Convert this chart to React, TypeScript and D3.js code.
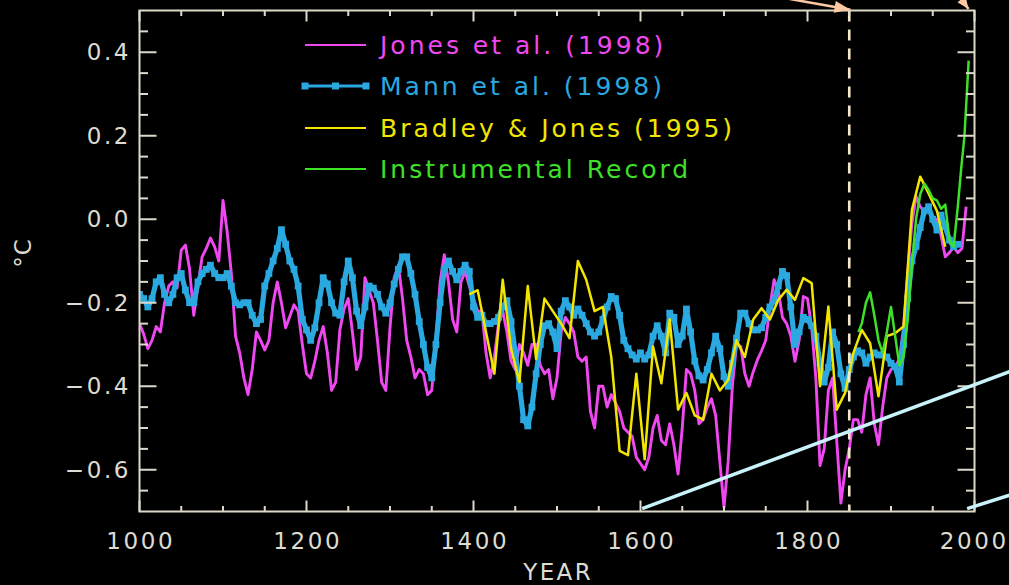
import React from 'react';
import * as d3 from 'd3';

// ---------------- DATA ----------------
const jonesYears = d3.range(1000, 1991, 5);
const jonesValues = [
  -0.25, -0.275, -0.31, -0.29, -0.257, -0.27, -0.2, -0.16, -0.15, -0.165,
  -0.074, -0.062, -0.12, -0.23, -0.16, -0.09, -0.07, -0.045, -0.066, -0.1,
  0.045, -0.03, -0.13, -0.28, -0.32, -0.38, -0.42, -0.36, -0.27, -0.29,
  -0.313, -0.29, -0.2, -0.15, -0.2, -0.26, -0.233, -0.205, -0.22, -0.3,
  -0.37, -0.38, -0.34, -0.29, -0.257, -0.32, -0.41, -0.39, -0.265, -0.215,
  -0.19, -0.27, -0.36, -0.33, -0.14, -0.17, -0.2, -0.29, -0.39, -0.41,
  -0.26, -0.14, -0.11, -0.19, -0.29, -0.33, -0.38, -0.36, -0.37, -0.42,
  -0.41, -0.29, -0.15, -0.085, -0.15, -0.24, -0.27, -0.15, -0.125, -0.16,
  -0.19, -0.22, -0.22, -0.32, -0.38, -0.33, -0.25, -0.22, -0.27, -0.34,
  -0.36, -0.3, -0.32, -0.35, -0.3, -0.3, -0.35, -0.37, -0.36, -0.43,
  -0.38, -0.27, -0.235, -0.25, -0.27, -0.33, -0.34, -0.33, -0.46, -0.5,
  -0.4, -0.4, -0.45, -0.42, -0.44, -0.46, -0.5, -0.51, -0.52, -0.57,
  -0.585, -0.6, -0.57, -0.5, -0.47, -0.53, -0.54, -0.49, -0.54, -0.61,
  -0.5, -0.36, -0.37, -0.41, -0.49, -0.48, -0.45, -0.43, -0.47, -0.58,
  -0.69, -0.58, -0.4, -0.3, -0.305, -0.37, -0.4, -0.365, -0.337, -0.315,
  -0.29, -0.21, -0.145, -0.17, -0.235, -0.25, -0.28, -0.34, -0.29, -0.185,
  -0.19, -0.26, -0.38, -0.59, -0.55, -0.41, -0.38, -0.53, -0.68, -0.6,
  -0.55, -0.48, -0.48, -0.51, -0.42, -0.38, -0.49, -0.54, -0.45, -0.38,
  -0.36, -0.353, -0.335, -0.26, -0.13, -0.01, 0.055, 0.03, 0.02, 0.03,
  -0.005, 0.0, -0.04, -0.09, -0.08, -0.066, -0.08, -0.07, 0.03,
];

const mannYears = d3.range(1000, 1981, 5);
const mannValues = [
  -0.18, -0.19, -0.21, -0.19, -0.15, -0.14, -0.18, -0.2, -0.18, -0.14,
  -0.13, -0.17, -0.2, -0.2, -0.15, -0.13, -0.12, -0.11, -0.13, -0.14,
  -0.14, -0.13, -0.16, -0.2, -0.205, -0.2, -0.2, -0.23, -0.25, -0.24,
  -0.16, -0.13, -0.1, -0.07, -0.025, -0.06, -0.1, -0.12, -0.16, -0.24,
  -0.265, -0.29, -0.26, -0.2, -0.14, -0.155, -0.2, -0.225, -0.23, -0.15,
  -0.1, -0.14, -0.22, -0.255, -0.21, -0.16, -0.165, -0.18, -0.21, -0.225,
  -0.2, -0.155, -0.12, -0.09, -0.09, -0.13, -0.18, -0.245, -0.3, -0.355,
  -0.38, -0.3, -0.2, -0.12, -0.1, -0.125, -0.145, -0.125, -0.11, -0.125,
  -0.21, -0.235, -0.23, -0.25, -0.25, -0.245, -0.235, -0.21, -0.195, -0.245,
  -0.32, -0.4, -0.48, -0.495, -0.45, -0.37, -0.3, -0.255, -0.25, -0.27,
  -0.31, -0.22, -0.195, -0.21, -0.23, -0.215, -0.23, -0.25, -0.27, -0.28,
  -0.27, -0.24, -0.21, -0.185, -0.19, -0.23, -0.29, -0.31, -0.325, -0.335,
  -0.32, -0.335, -0.325, -0.28, -0.255, -0.28, -0.32, -0.225, -0.235, -0.3,
  -0.28, -0.215, -0.27, -0.34, -0.375, -0.385, -0.36, -0.32, -0.28, -0.31,
  -0.377, -0.4, -0.345, -0.285, -0.225, -0.225, -0.25, -0.265, -0.265, -0.26,
  -0.235, -0.21, -0.195, -0.16, -0.125, -0.135, -0.21, -0.3, -0.27, -0.235,
  -0.24, -0.255, -0.28, -0.345, -0.39, -0.355, -0.27, -0.3, -0.37, -0.405,
  -0.36, -0.33, -0.315, -0.32, -0.345, -0.33, -0.32, -0.325, -0.325, -0.33,
  -0.345, -0.353, -0.39, -0.3, -0.19, -0.1, -0.065, -0.02, 0.02, 0.03,
  0.0, -0.026, 0.01, -0.018, -0.05, -0.066, -0.06,
];

const bradleyYears = d3.range(1395, 1966, 10);
const bradleyValues = [
  -0.18, -0.17, -0.27, -0.37, -0.145, -0.31, -0.39, -0.16, -0.335, -0.19,
  -0.22, -0.25, -0.285, -0.1, -0.145, -0.22, -0.21, -0.33, -0.555, -0.565,
  -0.37, -0.575, -0.305, -0.393, -0.24, -0.456, -0.416, -0.47, -0.48, -0.37,
  -0.41, -0.385, -0.29, -0.33, -0.24, -0.213, -0.24, -0.193, -0.169, -0.193,
  -0.141, -0.153, -0.4, -0.209, -0.456, -0.416, -0.32, -0.265, -0.297, -0.424,
  -0.28, -0.273, -0.257, 0.022, 0.102, 0.062, 0.02, -0.066,
];

const instYears = [
  1861, 1865, 1870, 1875, 1880, 1885, 1890, 1895, 1900, 1905, 1910, 1915, 1920, 1925,
  1930, 1935, 1940, 1945, 1950, 1955, 1960, 1965, 1970, 1975, 1980, 1984, 1988, 1993,
];
const instValues = [
  -0.27, -0.25, -0.2, -0.175, -0.23, -0.29, -0.32, -0.27, -0.21, -0.28, -0.35, -0.33, -0.24, -0.11,
  0.0, 0.06, 0.085, 0.07, 0.05, 0.045, 0.025, 0.035, -0.05, -0.066, 0.03, 0.12, 0.2, 0.38,
];

const xMajorTicks = [1000, 1200, 1400, 1600, 1800, 2000];
const xMinorTicks = d3.range(1050, 2000, 50).filter((t) => t % 200 !== 0);
const yMajorTicks = [0.4, 0.2, 0.0, -0.2, -0.4, -0.6];
const yMinorTicks = [0.45, 0.35, 0.3, 0.25, 0.15, 0.1, 0.05, -0.05, -0.1, -0.15, -0.25, -0.3, -0.35, -0.45, -0.5, -0.55, -0.65];

const legendLabels = ['Jones et al. (1998)', 'Mann et al. (1998)', 'Bradley & Jones (1995)', 'Instrumental Record'];
const legendColors = ['#f048f0', '#2aa8e0', '#f2e600', '#3ee028'];

const markerYear = 1850;
const annotLine1 = [[1602, -0.693], [2042, -0.365]];
const annotLine2 = [[1991.2, -0.693], [2042, -0.661]];
const arrow1 = [[1772, 0.53], [1851.5, 0.502]];
const arrow2 = [[1977, 0.548], [1992.8, 0.5035]];

// ---------------- LAYOUT ----------------
const W = 1009;
const H = 585;
const L = 139.5;
const R = 974.5;
const T = 10.5;
const B = 511.5;
const AX = '#ddd9c8';
const TXT = '#dedcd2';

const x = d3.scaleLinear().domain([1000, 2000]).range([L, R]);
const y = d3.scaleLinear().domain([-0.7, 0.5]).range([B, T]);

const fmtY = (v: number) => {
  const s = Math.abs(v).toFixed(1);
  return v < -1e-9 ? '\u2212' + s : s;
};

function arrowHead(p: number[][], len: number, half: number) {
  const [x0, y0] = [x(p[0][0]), y(p[0][1])];
  const [x1, y1] = [x(p[1][0]), y(p[1][1])];
  const dx = x1 - x0;
  const dy = y1 - y0;
  const d = Math.hypot(dx, dy);
  const ux = dx / d;
  const uy = dy / d;
  const bx = x1 - ux * len;
  const by = y1 - uy * len;
  return `${x1},${y1} ${bx - uy * half},${by + ux * half} ${bx + uy * half},${by - ux * half}`;
}

export default function App() {
  const line = d3.line<[number, number]>().x((d) => x(d[0])).y((d) => y(d[1]));
  const jones = jonesYears.map((yr, i) => [yr, jonesValues[i]] as [number, number]);
  const mann = mannYears.map((yr, i) => [yr, mannValues[i]] as [number, number]);
  const bradley = bradleyYears.map((yr, i) => [yr, bradleyValues[i]] as [number, number]);
  const inst = instYears.map((yr, i) => [yr, instValues[i]] as [number, number]);
  const font = '"DejaVu Sans", Verdana, sans-serif';
  const tickLS = 2.6;

  const legY = [45, 86, 128, 169];

  return (
    <div style={{ position: 'fixed', left: 0, top: 0, width: W, height: H, background: '#000' }}>
      <svg width={W} height={H} style={{ display: 'block', background: '#000' }}>
        <defs>
          <clipPath id="plot">
            <rect x={L} y={T} width={R - L} height={B - T} />
          </clipPath>
        </defs>

        {/* series */}
        <g clipPath="url(#plot)">
          <path d={line(jones) || ''} fill="none" stroke={legendColors[0]} strokeWidth={2.9} strokeLinejoin="round" />
          <path d={line(mann) || ''} fill="none" stroke={legendColors[1]} strokeWidth={5.2} strokeLinejoin="round" />
          {mann.map((d, i) => (
            <rect key={i} x={x(d[0]) - 3.4} y={y(d[1]) - 3.4} width={6.8} height={6.8} fill={legendColors[1]} />
          ))}
          <path d={line(bradley) || ''} fill="none" stroke={legendColors[2]} strokeWidth={2.5} strokeLinejoin="round" />
          <path d={line(inst) || ''} fill="none" stroke={legendColors[3]} strokeWidth={2.5} strokeLinejoin="round" />
        </g>

        {/* dashed 1850 marker */}
        <line x1={x(markerYear)} x2={x(markerYear)} y1={T} y2={B} stroke="#f6e8cc" strokeWidth={2.6} strokeDasharray="11,8" />

        {/* frame */}
        <rect x={L} y={T} width={R - L} height={B - T} fill="none" stroke={AX} strokeWidth={2} />
        {xMajorTicks.map((t) => (
          <g key={'xM' + t}>
            <line x1={x(t)} x2={x(t)} y1={B} y2={B - 11} stroke={AX} strokeWidth={2} />
            <line x1={x(t)} x2={x(t)} y1={T} y2={T + 11} stroke={AX} strokeWidth={2} />
            <text x={x(t) + tickLS / 2 - (t === 2000 ? 1.5 : 0)} y={549} fill={TXT} fontFamily={font} fontSize={23} letterSpacing={tickLS} textAnchor="middle">{t}</text>
          </g>
        ))}
        {xMinorTicks.map((t) => (
          <g key={'xm' + t}>
            <line x1={x(t)} x2={x(t)} y1={B} y2={B - 5.5} stroke={AX} strokeWidth={2} />
            <line x1={x(t)} x2={x(t)} y1={T} y2={T + 5.5} stroke={AX} strokeWidth={2} />
          </g>
        ))}
        {yMajorTicks.map((t) => (
          <g key={'yM' + t}>
            <line x1={L} x2={L + 17} y1={y(t)} y2={y(t)} stroke={AX} strokeWidth={2} />
            <line x1={R} x2={R - 17} y1={y(t)} y2={y(t)} stroke={AX} strokeWidth={2} />
            <text x={128.5 + tickLS} y={y(t) + 8.2} fill={TXT} fontFamily={font} fontSize={23} letterSpacing={tickLS} textAnchor="end">{fmtY(t)}</text>
          </g>
        ))}
        {yMinorTicks.map((t) => (
          <g key={'ym' + t}>
            <line x1={L} x2={L + 8.5} y1={y(t)} y2={y(t)} stroke={AX} strokeWidth={2} />
            <line x1={R} x2={R - 8.5} y1={y(t)} y2={y(t)} stroke={AX} strokeWidth={2} />
          </g>
        ))}

        {/* axis titles */}
        <text x={(L + R) / 2 + 1.2} y={580} fill={TXT} fontFamily={font} fontSize={23} letterSpacing={2.4} textAnchor="middle">YEAR</text>
        <text transform={`translate(31, ${(T + B) / 2 - 8}) rotate(-90)`} fill={TXT} fontFamily={font} fontSize={23} letterSpacing={1} textAnchor="middle">°C</text>

        {/* legend */}
        {legendLabels.map((lab, i) => (
          <g key={lab}>
            <line x1={305} x2={366} y1={legY[i]} y2={legY[i]} stroke={legendColors[i]} strokeWidth={i === 1 ? 3 : 2.2} />
            {i === 1 &&
              [305, 335.5, 366].map((mx) => (
                <rect key={mx} x={mx - 3.5} y={legY[i] - 3.5} width={7} height={7} fill={legendColors[1]} />
              ))}
            <text x={380} y={legY[i] + 9} fill={legendColors[i]} fontFamily={font} fontSize={25} letterSpacing={3}>{lab}</text>
          </g>
        ))}

        {/* overlay annotations */}
        <line x1={x(annotLine1[0][0])} y1={y(annotLine1[0][1])} x2={x(annotLine1[1][0])} y2={y(annotLine1[1][1])} stroke="#c9f3fb" strokeWidth={3.5} />
        <line x1={x(annotLine2[0][0])} y1={y(annotLine2[0][1])} x2={x(annotLine2[1][0])} y2={y(annotLine2[1][1])} stroke="#c9f3fb" strokeWidth={3.5} />
        <line x1={x(arrow1[0][0])} y1={y(arrow1[0][1])} x2={x(arrow1[1][0])} y2={y(arrow1[1][1])} stroke="#fdc9a2" strokeWidth={2.5} />
        <polygon points={arrowHead(arrow1, 16, 6)} fill="#fdc9a2" />
        <line x1={x(arrow2[0][0])} y1={y(arrow2[0][1])} x2={x(arrow2[1][0])} y2={y(arrow2[1][1])} stroke="#fdc9a2" strokeWidth={2.5} />
        <polygon points={arrowHead(arrow2, 12, 5)} fill="#fdc9a2" />
      </svg>
    </div>
  );
}
